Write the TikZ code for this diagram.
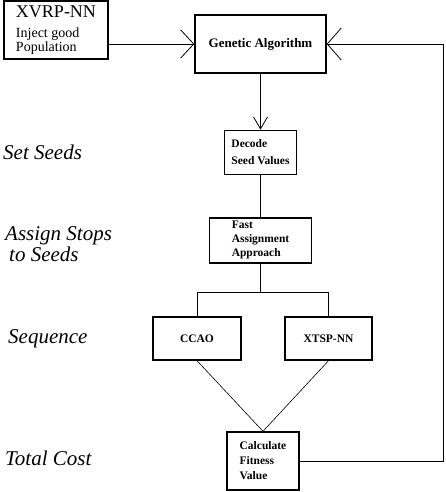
\documentclass[tikz,border=0pt]{standalone}
\usepackage{fontspec}
\setmainfont{Liberation Serif}
\usepackage{tikz}
\usetikzlibrary{arrows.meta, positioning}
\tikzstyle{box} = [rectangle, draw=black, line width=1.4pt, align=left, inner sep=0pt]
\tikzstyle{small} = [font=\bfseries\fontsize{11.5}{14}\selectfont]
\tikzstyle{stage} = [anchor=base west, inner sep=0pt, font=\itshape\fontsize{21}{21}\selectfont]
\tikzstyle{line} = [line width=0.8pt]
\tikzstyle{arrow} = [line width=0.8pt, -{Straight Barb[length=13pt, width=28pt]}]

\begin{document}
\begin{tikzpicture}[x=1pt, y=-1pt]
            \useasboundingbox (0,0) rectangle (445,492);

            \node (xvrp) [box, minimum width=104pt, minimum height=58pt, font=\fontsize{14}{14}\selectfont] at (56,30) {{\fontsize{18}{18}\selectfont XVRP-NN}\\[6pt]Inject good\\Population};
            \node (ga) [box, minimum width=131pt, minimum height=58pt, font=\bfseries\fontsize{13}{15}\selectfont] at (260.5,44) {Genetic Algorithm};
            \node (decode) [box, small, minimum width=72pt, minimum height=44pt, below=56pt of ga] {Decode\\[3pt]Seed Values};
            \node (fast) [box, small, minimum width=102pt, minimum height=45pt, below=42pt of decode] {Fast\\Assignment\\Approach};
            \node (ccao) [box, small, minimum width=88pt, minimum height=43pt] at (197,338.5) {CCAO};
            \node (xtsp) [box, small, minimum width=87pt, minimum height=43pt] at (328.5,338.5) {XTSP-NN};
            \node (calc) [box, small, minimum width=72pt, minimum height=58pt, font=\bfseries\fontsize{11.5}{15}\selectfont] at (263,461) {Calculate\\Fitness\\Value};

            % stage labels on the left
            \node (setseeds) [stage] at (3,159) {Set Seeds};
            \node (assign) [stage] at (5,240) {Assign Stops};
            \node (toseeds) [stage] at (9,261) {to Seeds};
            \node (sequence) [stage] at (8,343) {Sequence};
            \node (total) [stage] at (5,465) {Total Cost};

            \coordinate (split) at ([yshift=-29pt]fast.south);
            \coordinate (corner) at (443,44);

            \draw [arrow] (xvrp.east |- ga.west) -- (ga.west);
            \draw [arrow, -{Straight Barb[length=12pt, width=14pt]}] (ga.south) -- (decode.north);
            \draw [line] (decode) -- (fast);
            \draw [line] (fast) -- (split);
            \draw [line] (ccao.north) |- (split) -| (xtsp.north);
            \draw [line width=0.6pt] (ccao.south) -- (calc.north);
            \draw [line width=0.6pt] (xtsp.south) -- (calc.north);
            \draw [arrow, -{Straight Barb[length=14pt, width=32pt]}] (calc.east) -| (corner) -- (ga.east);

        \end{tikzpicture}
\end{document}
